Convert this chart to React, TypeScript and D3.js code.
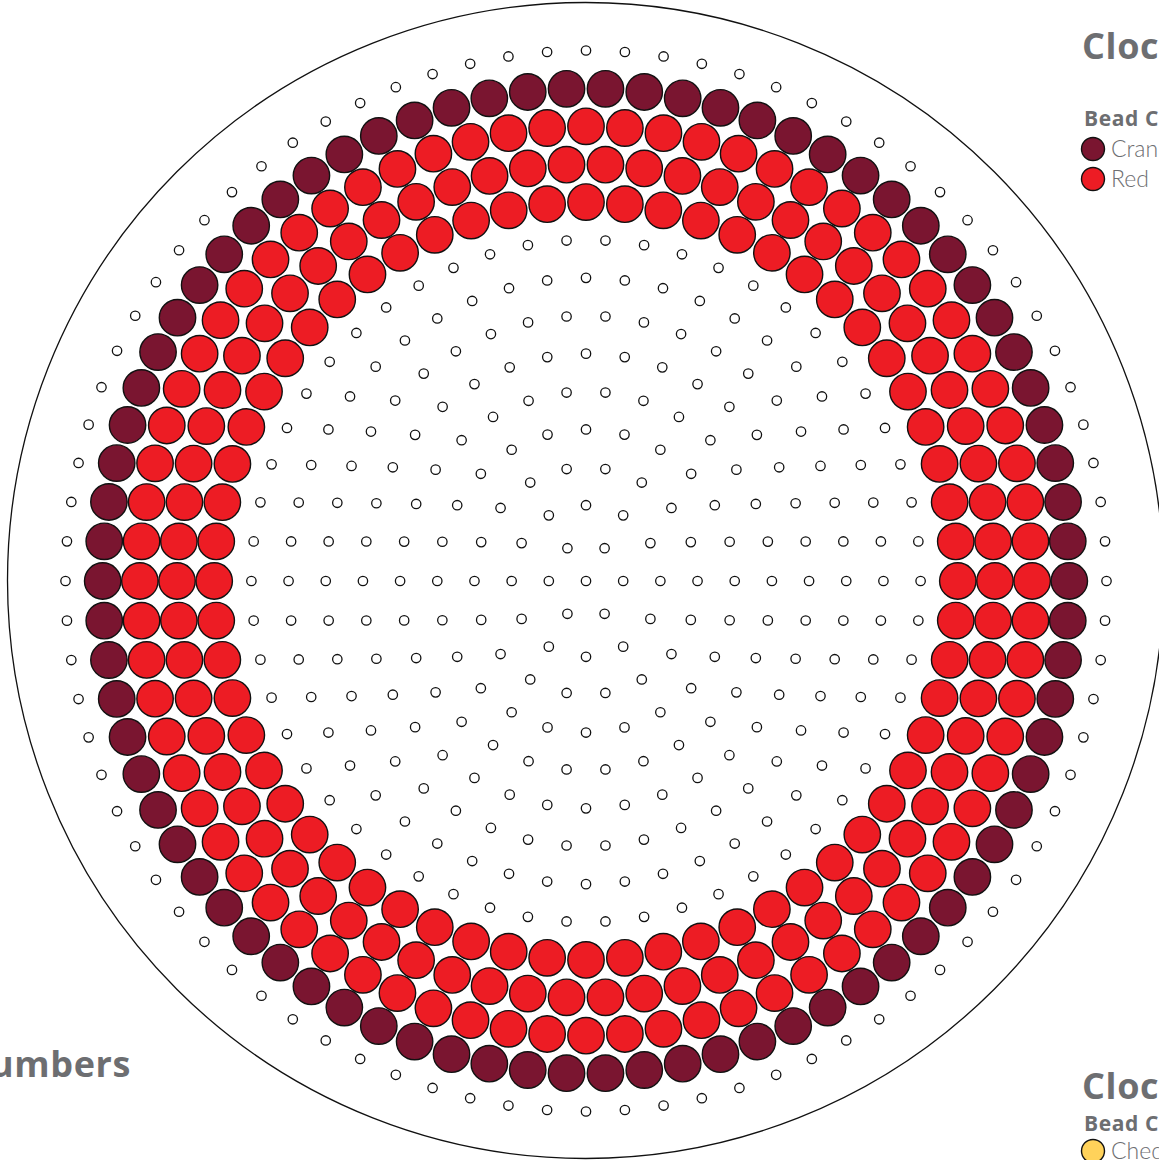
import { useEffect, useRef } from "react";
import * as d3 from "d3";

// ring number -> how many pegs it has and what sits on it
const ringNumbers = [0, 1, 2, 3, 4, 5, 6, 7, 8, 9, 10, 11, 12, 13, 14];
const pegCounts = [1, 6, 12, 18, 24, 30, 36, 42, 48, 54, 60, 66, 72, 78, 84];
const ringBeads = [
  "peg", "peg", "peg", "peg", "peg", "peg", "peg", "peg", "peg", "peg",
  "red", "red", "red", "cranberry", "peg",
];

const beadColors: Record<string, string> = {
  cranberry: "#7a1530",
  red: "#ed1c24",
  cheddar: "#ffd25a",
};

const topLegendNames = ["Cranberry", "Red"];
const topLegendKeys = ["cranberry", "red"];
const bottomLegendNames = ["Cheddar"];
const bottomLegendKeys = ["cheddar"];

const W = 1159;
const H = 1160;

export default function App() {
  const ref = useRef<SVGSVGElement>(null);

  useEffect(() => {
    if (!ref.current) return;
    document.body.style.margin = "0";
    const svg = d3.select(ref.current);
    svg.selectAll("*").remove();

    const cx = 586;
    const cy = 581;
    const maxRing = d3.max(ringNumbers) || 14;

    // the board is drawn a little taller than wide
    const rx = d3.scaleLinear().domain([0, maxRing]).range([0, 520.5]);
    const ry = d3.scaleLinear().domain([0, maxRing]).range([0, 530.5]);

    // board outline
    svg
      .append("circle")
      .attr("cx", 585.5)
      .attr("cy", 580.5)
      .attr("r", 578)
      .attr("fill", "none")
      .attr("stroke", "#111")
      .attr("stroke-width", 1.3);

    type Peg = { x: number; y: number; kind: string };
    const pegs: Peg[] = [];
    ringNumbers.forEach((k, ri) => {
      const n = pegCounts[ri];
      const angle = d3.scaleLinear().domain([0, n]).range([0, 2 * Math.PI]);
      d3.range(n).forEach((i) => {
        const a = angle(i);
        pegs.push({
          x: cx + rx(k) * Math.cos(a),
          y: cy - ry(k) * Math.sin(a),
          kind: ringBeads[ri],
        });
      });
    });

    // empty pegs
    svg
      .append("g")
      .selectAll("circle")
      .data(pegs.filter((p) => p.kind === "peg"))
      .enter()
      .append("circle")
      .attr("cx", (d) => d.x)
      .attr("cy", (d) => d.y)
      .attr("r", 4.7)
      .attr("fill", "#fff")
      .attr("stroke", "#111")
      .attr("stroke-width", 1.3);

    // beads
    svg
      .append("g")
      .selectAll("circle")
      .data(pegs.filter((p) => p.kind !== "peg"))
      .enter()
      .append("circle")
      .attr("cx", (d) => d.x)
      .attr("cy", (d) => d.y)
      .attr("r", 18.2)
      .attr("fill", (d) => beadColors[d.kind])
      .attr("stroke", "#111")
      .attr("stroke-width", 1.4);

    const grey = "#6d6e71";
    const titleFont = "'Open Sans', Lato, sans-serif";
    const itemFont = "Lato, 'Open Sans', sans-serif";

    const addTitle = (x: number, y: number, text: string, size: number, anchor = "start") =>
      svg
        .append("text")
        .attr("x", x)
        .attr("y", y)
        .attr("text-anchor", anchor)
        .attr("fill", grey)
        .style("font-family", titleFont)
        .style("font-weight", 700)
        .style("font-size", `${size}px`)
        .style("letter-spacing", "0.6px")
        .text(text);

    const addLegend = (x: number, y0: number, names: string[], keys: string[]) => {
      const g = svg.append("g");
      names.forEach((name, i) => {
        const y = y0 + i * 30;
        g.append("circle")
          .attr("cx", x + 11)
          .attr("cy", y)
          .attr("r", 11.5)
          .attr("fill", beadColors[keys[i]])
          .attr("stroke", "#111")
          .attr("stroke-width", 1.4);
        g.append("text")
          .attr("x", x + 29)
          .attr("y", y + 8)
          .attr("fill", grey)
          .style("font-family", itemFont)
          .style("font-weight", 300)
          .style("font-size", "23px")
          .text(name);
      });
    };

    addTitle(1082, 59, "Clock Face", 36);
    addTitle(1084, 126, "Bead Colors", 21);
    addLegend(1082, 149, topLegendNames, topLegendKeys);

    addTitle(131, 1077, "Clock Numbers", 36, "end");

    addTitle(1082, 1099, "Clock Hands", 36);
    addTitle(1084, 1131, "Bead Colors", 21);
    addLegend(1082, 1151, bottomLegendNames, bottomLegendKeys);
  }, []);

  return (
    <svg
      ref={ref}
      width={W}
      height={H}
      style={{ position: "absolute", left: 0, top: 0, display: "block", overflow: "hidden" }}
    />
  );
}
